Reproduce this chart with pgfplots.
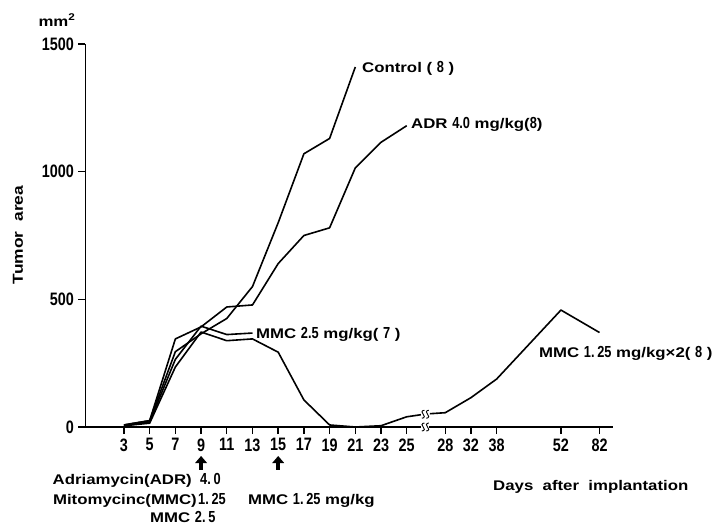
\documentclass[border=0pt]{standalone}
\usepackage{fontspec}
\setmainfont{Liberation Sans}
\newfontfamily\wide[FakeStretch=1.2]{Liberation Sans}
\newfontfamily\narrow[FakeStretch=0.8]{Liberation Sans}
\usepackage{pgfplots}
\pgfplotsset{compat=1.18}
\newcommand\lab{\wide\bfseries\fontsize{14}{15}\selectfont}
\newcommand\num{\narrow\bfseries\fontsize{16}{16}\selectfont}
\newcommand\brk[1]{%
  \fill[white] ([shift={(-4pt,-2.2pt)}]#1) rectangle ([shift={(4pt,2.2pt)}]#1);
  \foreach \dx in {-2.2,2.2}{%
    \draw[line width=0.9pt] ([shift={(\dx pt+1.3pt,4pt)}]#1) .. controls ([shift={(\dx pt-1.8pt,4.2pt)}]#1) and ([shift={(\dx pt-1.8pt,0.6pt)}]#1) .. ([shift={(\dx pt,0pt)}]#1) .. controls ([shift={(\dx pt+1.8pt,-0.6pt)}]#1) and ([shift={(\dx pt+1.8pt,-4.2pt)}]#1) .. ([shift={(\dx pt-1.3pt,-4pt)}]#1);
  }%
}
\begin{document}
\begin{tikzpicture}
\begin{axis}[
  scale only axis, width=527.6pt, height=383pt,
  xmin=0, xmax=41.05, ymin=0, ymax=1500,
  clip=false,
  axis x line*=bottom, axis y line*=left,
  axis line style={line width=1.6pt},
  xtick={3,5,7,9,11,13,15,17,19,21,23,25,28,30,32,37,40},
  xticklabels={3,5,7,9,11,13,15,17,19,21,23,25,28,32,38,52,82},
  ytick={0,500,1000,1500},
  yticklabels={0,500,1000,1500},
  xtick pos=left, ytick pos=left,
  tick align=outside, major tick length=7pt,
  tick style={line width=1.4pt, black},
  /pgf/number format/assume math mode=true,
  ticklabel style={font=\narrow\bfseries\fontsize{18}{18}\selectfont},
  xticklabel style={yshift=-1pt},
  yticklabel style={xshift=-1pt},
]
\addplot[black, line width=1.6pt, line join=round] coordinates {
 (3,8) (5,25) (7,295) (9,365) (11,425) (13,550) (15,800) (17,1070) (19,1130) (21,1410)};
\addplot[black, line width=1.6pt, line join=round] coordinates {
 (3,8) (5,25) (7,345) (9,392) (11,470) (13,478) (15,640) (17,750) (19,780) (21,1015) (23,1115) (25,1180)};
\addplot[black, line width=1.6pt, line join=round] coordinates {
 (3,5) (5,20) (7,265) (9,395) (11,362) (13,368)};
\addplot[black, line width=1.6pt, line join=round] coordinates {
 (3,5) (5,15) (7,235) (9,372) (11,338) (13,345) (15,293) (17,106) (19,8) (21,0) (23,5) (25,40) (26.1,48)};
\addplot[black, line width=1.6pt, line join=round] coordinates {
 (26.8,52) (28,56) (30,115) (32,188) (37,458) (40,370)};
\coordinate (O) at (axis cs:0,0);
\coordinate (B1) at (axis cs:26.45,0);
\coordinate (B2) at (axis cs:26.45,50);
\coordinate (A9) at (axis cs:9,0);
\coordinate (A15) at (axis cs:15,0);
\end{axis}
\brk{B1}
\brk{B2}
\foreach \a in {A9,A15}{%
  \fill ([shift={(-2.2pt,-43pt)}]\a) rectangle ([shift={(2.2pt,-36pt)}]\a);
  \fill ([shift={(-6pt,-36pt)}]\a) -- ([shift={(6pt,-36pt)}]\a) -- ([shift={(0pt,-29pt)}]\a) -- cycle;
}
\node[inner sep=0pt] at ([shift={(-28.4pt,407pt)}]O) {\lab mm\textsuperscript{2}};
\node[inner sep=0pt, rotate=90] at ([shift={(-67.4pt,192pt)}]O) {\lab\fontsize{14.5}{15}\selectfont Tumor\ \ area};
\node[inner sep=0pt, anchor=base west] at ([shift={(407.6pt,-63pt)}]O) {\lab Days\ \ after\ \ implantation};
\node[inner sep=0pt, anchor=base west] at ([shift={(276.6pt,354pt)}]O) {\lab Control ( {\num 8} )};
\node[inner sep=0pt, anchor=base west] at ([shift={(325.6pt,298pt)}]O) {\lab ADR {\num 4.0} mg/kg({\num 8})};
\node[inner sep=0pt, anchor=base west] at ([shift={(170.6pt,88pt)}]O) {\lab MMC {\num 2.5} mg/kg( {\num 7} )};
\node[inner sep=0pt, anchor=base west] at ([shift={(453.6pt,69pt)}]O) {\lab MMC {\num 1.\,25} mg/kg×2( {\num 8} )};
\node[inner sep=0pt, anchor=base east] at ([shift={(106.6pt,-57pt)}]O) {\lab Adriamycin(ADR)};
\node[inner sep=0pt, anchor=base west] at ([shift={(114.6pt,-57pt)}]O) {\num 4.\,0};
\node[inner sep=0pt, anchor=base east] at ([shift={(111.6pt,-77pt)}]O) {\lab Mitomycinc(MMC)};
\node[inner sep=0pt, anchor=base west] at ([shift={(112.6pt,-77pt)}]O) {\num 1.\,25};
\node[inner sep=0pt, anchor=base west] at ([shift={(162.6pt,-77pt)}]O) {\lab MMC {\num 1.\,25} mg/kg};
\node[inner sep=0pt, anchor=base west] at ([shift={(64.6pt,-95pt)}]O) {\lab MMC {\num 2.\,5}};
\pgfresetboundingbox
\path ([shift={(-85.4pt,-97pt)}]O) rectangle ([shift={(641.6pt,427pt)}]O);
\end{tikzpicture}
\end{document}
